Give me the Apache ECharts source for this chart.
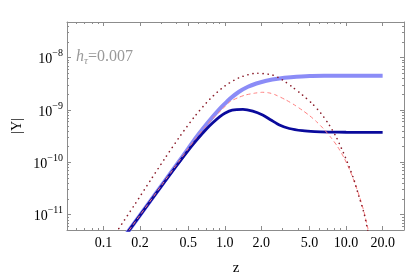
<!DOCTYPE html>
<html><head><meta charset="utf-8">
<script src="https://cdn.jsdelivr.net/npm/echarts@6/dist/echarts.min.js"></script>
<style>html,body{margin:0;padding:0;background:#fff}#c{width:409px;height:278px}</style>
</head><body><div id="c"></div>
<script>
// ---- tick definitions ----
const xMajorTicks = [0.1, 0.2, 0.5, 1, 2, 5, 10, 20];
const xMinorTicks = [0.06, 0.07, 0.08, 0.09, 0.3, 0.4, 0.6, 0.7, 0.8, 0.9, 3, 4, 6, 7, 8, 9, 30];
const yMajorTicks = [1e-11, 1e-10, 1e-9, 1e-8];
const yMinorTicks = [6e-12, 7e-12, 8e-12, 9e-12,
  2e-11, 3e-11, 4e-11, 5e-11, 6e-11, 7e-11, 8e-11, 9e-11,
  2e-10, 3e-10, 4e-10, 5e-10, 6e-10, 7e-10, 8e-10, 9e-10,
  2e-9, 3e-9, 4e-9, 5e-9, 6e-9, 7e-9, 8e-9, 9e-9,
  2e-8, 3e-8, 4e-8];

// ---- series data ----
const zLight = [0.15, 0.2, 0.3, 0.4, 0.5, 0.586, 0.7, 0.8, 0.9, 1.0, 1.1, 1.3, 1.55, 1.82, 2.2, 2.82, 3.5, 5, 7, 10, 14, 20];
const yLight = [3.93e-12, 9.8e-12, 3.6e-11, 9.0e-11, 1.85e-10, 3.08e-10, 5.2e-10, 7.57e-10, 1.03e-9, 1.32e-9, 1.63e-9, 2.21e-9, 2.78e-9, 3.21e-9, 3.63e-9, 4.01e-9, 4.22e-9, 4.45e-9, 4.5e-9, 4.52e-9, 4.53e-9, 4.53e-9];

const zDark = [0.15, 0.2, 0.3, 0.4, 0.5, 0.586, 0.7, 0.8, 0.91, 1.0, 1.15, 1.41, 1.7, 2.05, 2.4, 2.82, 3.4, 4.36, 5.5, 7.26, 10, 14, 20];
const yDark = [3.9e-12, 9.7e-12, 3.5e-11, 8.6e-11, 1.7e-10, 2.67e-10, 4.24e-10, 5.75e-10, 7.45e-10, 8.67e-10, 9.95e-10, 1.03e-9, 9.5e-10, 8.0e-10, 6.44e-10, 5.17e-10, 4.43e-10, 4.02e-10, 3.86e-10, 3.79e-10, 3.76e-10, 3.75e-10, 3.75e-10];

const zDashed = [0.15, 0.2, 0.3, 0.4, 0.5, 0.586, 0.7, 0.8, 0.95, 1.1, 1.3, 1.486, 1.75, 2.05, 2.3, 2.57, 3.2, 3.75, 4.38, 4.98, 5.68, 6.48, 7.39, 8.44, 9.63, 10.8, 11.86, 13.0, 14.06, 15.1, 15.7];
const yDashed = [3.9e-12, 9.8e-12, 3.6e-11, 9.0e-11, 1.83e-10, 3.0e-10, 4.9e-10, 7.03e-10, 1.03e-9, 1.44e-9, 1.74e-9, 1.94e-9, 2.09e-9, 2.18e-9, 2.13e-9, 1.98e-9, 1.55e-9, 1.25e-9, 9.8e-10, 7.85e-10, 6.03e-10, 4.43e-10, 3.11e-10, 2.05e-10, 1.21e-10, 6.83e-11, 3.85e-11, 2.08e-11, 1.12e-11, 5.54e-12, 3.9e-12];

const zDotted = [0.114, 0.131, 0.183, 0.243, 0.322, 0.428, 0.568, 0.754, 1.0, 1.327, 1.818, 2.47, 2.99, 3.61, 4.36, 5.24, 6.2, 7.26, 8.28, 9.45, 10.59, 11.63, 12.78, 14.06, 14.95, 15.4];
const yDotted = [3.13e-12, 5.08e-12, 1.63e-11, 4.49e-11, 1.21e-10, 3.18e-10, 7.68e-10, 1.62e-9, 2.88e-9, 4.18e-9, 5.04e-9, 4.67e-9, 3.75e-9, 2.75e-9, 1.94e-9, 1.33e-9, 8.65e-10, 5.17e-10, 3.05e-10, 1.57e-10, 8.24e-11, 4.59e-11, 2.2e-11, 1.06e-11, 5.47e-12, 3.9e-12];

const xMin = 0.05, xMax = 30;
const yMin = 5.1e-12, yMax = 4.8e-8;

const pairs = (xs, ys) => xs.map((x, i) => [x, ys[i]]);
const frameColor = '#8c8c8c';
const serif = '"Liberation Serif","DejaVu Serif",serif';

function xAxisDef(pos, ticks, len, withLine, withLabels) {
  return {
    type: 'log', logBase: 10, min: xMin, max: xMax, position: pos,
    axisLine: {show: withLine, onZero: false, lineStyle: {color: frameColor, width: 1}},
    axisTick: {show: true, inside: true, length: len, customValues: ticks, lineStyle: {color: frameColor, width: 1}},
    axisLabel: withLabels ? {show: true, customValues: xMajorTicks, margin: 6, color: '#000', fontFamily: serif, fontSize: 14,
      formatter: v => Number(v).toFixed(1)} : {show: false},
    splitLine: {show: false}, minorTick: {show: false}
  };
}
function yAxisDef(pos, ticks, len, withLine, withLabels) {
  return {
    type: 'log', logBase: 10, min: yMin, max: yMax, position: pos,
    axisLine: {show: withLine, onZero: false, lineStyle: {color: frameColor, width: 1}},
    axisTick: {show: true, inside: true, length: len, customValues: ticks, lineStyle: {color: frameColor, width: 1}},
    axisLabel: withLabels ? {show: true, customValues: yMajorTicks, margin: 4, color: '#000',
      formatter: v => '{b|10}{s|' + String(Math.round(Math.log10(v))).replace('-', '\u2212') + '}',
      rich: {
        b: {fontFamily: serif, fontSize: 14, lineHeight: 18, verticalAlign: 'bottom', color: '#000'},
        s: {fontFamily: serif, fontSize: 10, lineHeight: 18, verticalAlign: 'top', color: '#000'}
      }} : {show: false},
    splitLine: {show: false}, minorTick: {show: false}
  };
}

const lineBase = {type: 'line', showSymbol: false, smooth: 0.25, clip: true};

const option = {
  animation: false,
  backgroundColor: '#fff',
  grid: {left: 67, top: 22, right: 5, bottom: 48, containLabel: false},
  xAxis: [
    xAxisDef('bottom', xMajorTicks, 4, true, true),
    xAxisDef('bottom', xMinorTicks, 2, false, false),
    xAxisDef('top', xMajorTicks, 4, true, false),
    xAxisDef('top', xMinorTicks, 2, false, false)
  ],
  yAxis: [
    yAxisDef('left', yMajorTicks, 4, true, true),
    yAxisDef('left', yMinorTicks, 2, false, false),
    yAxisDef('right', yMajorTicks, 4, true, false),
    yAxisDef('right', yMinorTicks, 2, false, false)
  ],
  series: [
    Object.assign({}, lineBase, {data: pairs(zLight, yLight), lineStyle: {color: '#8b8cf7', width: 4}, z: 2}),
    Object.assign({}, lineBase, {data: pairs(zDark, yDark), lineStyle: {color: '#0a0a9c', width: 2.8}, z: 3}),
    Object.assign({}, lineBase, {data: pairs(zDashed, yDashed), lineStyle: {color: '#ff7f7f', width: 1, type: [4, 3]}, z: 4}),
    Object.assign({}, lineBase, {data: pairs(zDotted, yDotted), lineStyle: {color: '#8b1c2a', width: 1.6, type: [0.1, 5], cap: 'round'}, z: 5})
  ],
  graphic: [
    {type: 'text', left: 76, top: 49, style: {
      text: '{i|h}{t|\u03c4}{n|=0.007}',
      rich: {
        i: {fontFamily: serif, fontStyle: 'italic', fontSize: 16, fill: '#999', lineHeight: 19, verticalAlign: 'top'},
        t: {fontFamily: serif, fontStyle: 'italic', fontSize: 11, fill: '#999', lineHeight: 19, verticalAlign: 'middle', padding: [6, 0, 0, 0]},
        n: {fontFamily: serif, fontSize: 16, fill: '#999', lineHeight: 19, verticalAlign: 'top'}
      }}},
    {type: 'text', x: 17, y: 126, rotation: Math.PI / 2, style: {
      text: '|Y|', fontFamily: serif, fontSize: 14, fill: '#000', align: 'center', verticalAlign: 'middle'}},
    {type: 'text', x: 236, y: 268, style: {
      text: 'z', fontFamily: serif, fontSize: 15, fill: '#000', align: 'center', verticalAlign: 'middle'}}
  ]
};
const chart = echarts.init(document.getElementById('c'), null, {renderer: 'canvas'});
chart.setOption(option);
</script></body></html>
